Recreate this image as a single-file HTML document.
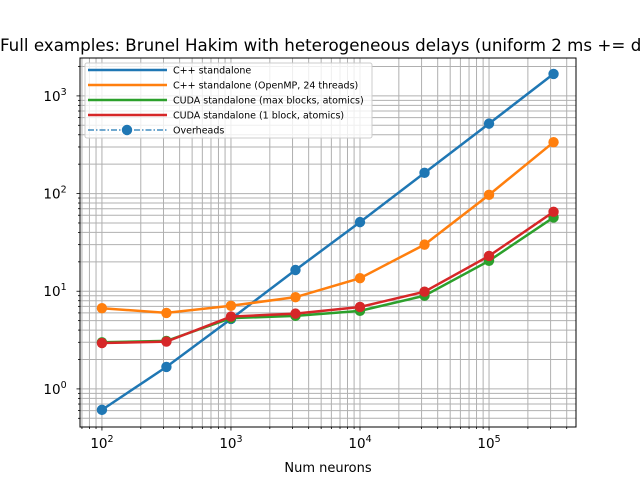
<!DOCTYPE html>
<html><head><meta charset="utf-8"><style>body{margin:0;background:#fff}svg{display:block;font-family:"DejaVu Sans","Liberation Sans",sans-serif}</style></head>
<body>
<svg id="chart" width="640" height="480">
<text x="0" y="51" font-size="16.7">Full examples: Brunel Hakim with heterogeneous delays (uniform 2 ms += dt)</text>
<g id="grid"></g><g id="series"></g><g id="axes"></g>
<text x="328" y="472" font-size="13" text-anchor="middle">Num neurons</text>
</svg>
<script>
const xs=[100,316,1000,3162,10000,31623,100000,316228];
const cppValues=[0.61,1.68,5.2,16.5,51,163,520,1680];
const ompValues=[6.7,6.0,7.1,8.7,13.6,30,97,336];
const cudaMaxValues=[3.0,3.1,5.3,5.6,6.3,9.0,20.5,57];
const cudaOneValues=[2.95,3.05,5.5,5.9,6.9,9.9,23,65];
const seriesNames=["C++ standalone","C++ standalone (OpenMP, 24 threads)","CUDA standalone (max blocks, atomics)","CUDA standalone (1 block, atomics)"];
const colors=["#1f77b4","#ff7f0e","#2ca02c","#d62728"];
const L=80,R=576,T=58,B=427,xmin=1.83,xmax=5.674,ymin=-0.39,ymax=3.388;
const X=v=>L+(Math.log10(v)-xmin)/(xmax-xmin)*(R-L);
const Y=v=>B-(Math.log10(v)-ymin)/(ymax-ymin)*(B-T);
const NS="http://www.w3.org/2000/svg";
function mk(p,t,a){const e=document.createElementNS(NS,t);for(const k in a)e.setAttribute(k,a[k]);p.appendChild(e);return e;}
const grid=document.getElementById('grid'),axes=document.getElementById('axes'),ser=document.getElementById('series');
for(let d=1;d<=5;d++)for(let m=1;m<10;m++){const v=m*Math.pow(10,d),x=X(v);if(x<L||x>R)continue;
 const g=mk(grid,'line',{x1:x,x2:x,y1:T,y2:B,stroke:'#b0b0b0','stroke-width':1});
 
 const t=mk(axes,'line',{x1:x,x2:x,y1:B,y2:B+(m==1?3.5:2),stroke:'#000','stroke-width':0.8});
 
 if(m==1){const l=mk(axes,'text',{x:x,y:B+21,'font-size':13.5,'text-anchor':'middle'});l.innerHTML='10<tspan dy="-6" font-size="9.5">'+d+'</tspan>';
 }}
for(let d=-1;d<=3;d++)for(let m=1;m<10;m++){const v=m*Math.pow(10,d),y=Y(v);if(y<T||y>B)continue;
 const g=mk(grid,'line',{x1:L,x2:R,y1:y,y2:y,stroke:'#b0b0b0','stroke-width':1});
 
 const t=mk(axes,'line',{x1:L,x2:L-(m==1?3.5:2),y1:y,y2:y,stroke:'#000','stroke-width':0.8});
 
 if(m==1){const l=mk(axes,'text',{x:L-25,y:y+5,'font-size':13.5,'text-anchor':'middle'});l.innerHTML='10<tspan dy="-6" font-size="9.5">'+d+'</tspan>';
 }}
const fr=mk(axes,'rect',{x:L,y:T,width:R-L,height:B-T,fill:'none',stroke:'#000','stroke-width':1});

[cppValues,ompValues,cudaMaxValues,cudaOneValues].forEach((vals,i)=>{
 const p=mk(ser,'polyline',{points:vals.map((v,j)=>X(xs[j])+','+Y(v)).join(' '),fill:'none',stroke:colors[i],'stroke-width':2.5});
 
 vals.forEach((v,j)=>{const c=mk(ser,'circle',{cx:X(xs[j]),cy:Y(v),r:5.2,fill:colors[i]});
 });});
const lg=mk(axes,'g',{});

mk(lg,'rect',{x:85,y:63,width:287,height:75,rx:2,fill:'#fff','fill-opacity':0.8,stroke:'#ccc'});
seriesNames.concat(["Overheads"]).forEach((n,i)=>{const y=70+i*15;
 if(i<4)mk(lg,'line',{x1:88,x2:167,y1:y,y2:y,stroke:colors[i],'stroke-width':2.5});
 else{mk(lg,'line',{x1:88,x2:167,y1:y,y2:y,stroke:colors[0],'stroke-width':1.2,'stroke-dasharray':'6,2,1.5,2'});mk(lg,'circle',{cx:127,cy:y,r:5.2,fill:colors[0]});}
 const t=mk(lg,'text',{x:173,y:y+3.5,'font-size':9.5});t.textContent=n;
 });
</script>
</body></html>
